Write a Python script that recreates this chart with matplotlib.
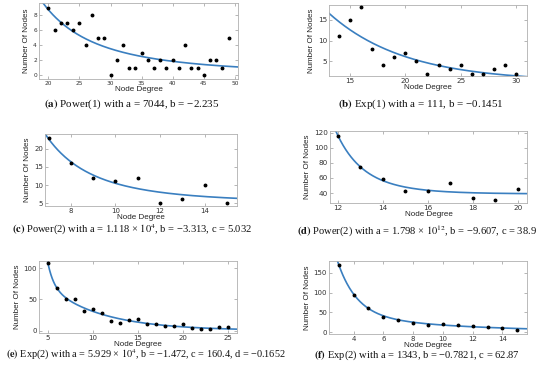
import numpy as np
import matplotlib
matplotlib.use("Agg")
import matplotlib.pyplot as plt

plt.rcParams['mathtext.fontset'] = 'stix'

# ---------------- data ----------------
a_x = list(range(20, 50))
a_y = [9, 6, 7, 7, 6, 7, 4, 8, 5, 5, 0, 2, 4, 1, 1, 3, 2, 1, 2, 1, 2, 1, 4, 1, 1, 0, 2, 2, 1, 5]

b_x = list(range(14, 31))
b_y = [11, 15, 18, 8, 4, 6, 7, 5, 2, 4, 3, 4, 2, 2, 3, 4, 2]

c_x = list(range(7, 16))
c_y = [23, 16, 12, 11, 12, 5, 6, 10, 5]

d_x = list(range(12, 21))
d_y = [116, 74, 59, 43, 43, 54, 34, 31, 46]

e_x = list(range(5, 26))
e_y = [108, 68, 51, 50, 31, 34, 28, 15, 12, 17, 18, 11, 11, 8, 8, 11, 4, 3, 2, 5, 5]

f_x = list(range(3, 16))
f_y = [170, 93, 62, 37, 30, 22, 18, 20, 18, 16, 12, 11, 6]

# fit parameters (from captions)
a_par = (7044, -2.235)
b_par = (111, -0.1451)
c_par = (1.118e4, -3.313, 5.032)
d_par = (1.798e12, -9.607, 38.9)
e_par = (5.929e4, -1.472, 160.4, -0.1652)
f_par = (1343, -0.7821, 62.87, -0.13)

captions = [
    r"$\mathbf{(a)}$ Power(1) with a = 7044, b = −2.235",
    r"$\mathbf{(b)}$ Exp(1) with a = 111, b = −0.1451",
    r"$\mathbf{(c)}$ Power(2) with a = 1.118 × $10^{4}$, b = −3.313, c = 5.032",
    r"$\mathbf{(d)}$ Power(2) with a = 1.798 × $10^{12}$, b = −9.607, c = 38.9",
    r"$\mathbf{(e)}$ Exp(2) with a = 5.929 × $10^{4}$, b = −1.472, c = 160.4, d = −0.1652",
    r"$\mathbf{(f)}$ Exp(2) with a = 1343, b = −0.7821, c = 62.87",
]

def power1(x, p): return p[0] * x ** p[1]
def exp1(x, p): return p[0] * np.exp(p[1] * x)
def power2(x, p): return p[0] * x ** p[1] + p[2]
def exp2(x, p): return p[0] * np.exp(p[1] * x) + p[2] * np.exp(p[3] * x)

W, H = 550, 372
fig = plt.figure(figsize=(W / 100, H / 100), dpi=100)

# (left, right, top, bottom) in pixels
boxes = [
    (39, 238, 3, 79),
    (329, 527, 5, 76),
    (45, 237, 134, 206),
    (330, 527, 131, 203),
    (39, 237, 261, 333),
    (329, 527, 261, 334),
]
panels = [
    (a_x, a_y, power1, a_par, (18.5, 50.5), (-0.5, 9.6), range(20, 51, 5), [0, 2, 4, 6, 8], 4.2),
    (b_x, b_y, exp1, b_par, (13.1, 31.0), (1.4, 18.6), [15, 20, 25, 30], [5, 10, 15], 5.2),
    (c_x, c_y, power2, c_par, (6.84, 15.45), (4.2, 24.1), [8, 10, 12, 14], [5, 10, 15, 20], 5.0),
    (d_x, d_y, power2, d_par, (11.65, 20.4), (27, 122), [12, 14, 16, 18, 20], [40, 60, 80, 100, 120], 5.2),
    (e_x, e_y, exp2, e_par, (4.0, 26.0), (-4, 112), [5, 10, 15, 20, 25], [0, 50, 100], 5.0),
    (f_x, f_y, exp2, f_par, (2.35, 15.65), (-5, 180), [4, 6, 8, 10, 12, 14], [0, 50, 100, 150], 5.0),
]
cap_pos = [(132, 104), (421, 104), (132, 230), (417, 231), (146, 355), (417, 355)]
cap_fs = [7.9, 7.9, 7.6, 7.6, 7.4, 7.6]

for (l, r, t, b), (xs, ys, fn, par, xl, yl, xt, yt, fs), cp, cap, cfs in zip(boxes, panels, cap_pos, captions, cap_fs):
    ax = fig.add_axes([l / W, 1 - b / H, (r - l) / W, (b - t) / H])
    xx = np.linspace(xl[0], xl[1], 300)
    ax.plot(xx, fn(xx, par), color='#3a7fc0', lw=1.2, zorder=2)
    ax.plot(xs, ys, 'o', color='black', ms=1.8, zorder=3)
    ax.set_xlim(xl)
    ax.set_ylim(yl)
    ax.set_xticks(list(xt))
    ax.set_yticks(yt)
    ax.tick_params(direction='in', length=2, width=0.5, colors='#999999',
                   labelcolor='#333333', labelsize=fs, pad=1.5,
                   top=True, right=True)
    for s in ax.spines.values():
        s.set_color('#b0b0b0')
        s.set_linewidth(0.6)
    ax.set_xlabel('Node Degree', fontsize=5.8, family='Liberation Sans', labelpad=0, color='#222222')
    ax.set_ylabel('Number Of Nodes', fontsize=5.8, family='Liberation Sans', labelpad=2, color='#222222')
    fig.text(cp[0] / W, 1 - cp[1] / H, cap, ha='center', va='center', fontsize=cfs,
             family=['Liberation Serif', 'DejaVu Serif'], color='#111111')

fig.savefig('out.png', dpi=100)
